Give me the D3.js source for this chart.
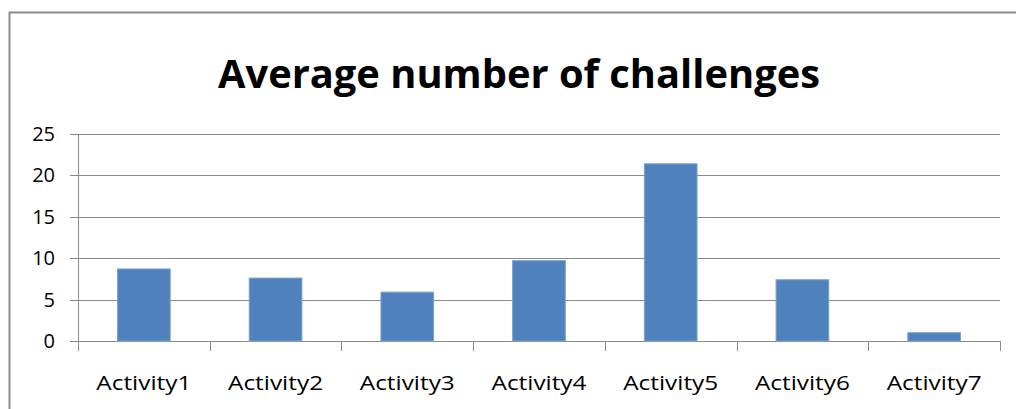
<!DOCTYPE html>
<html>
<head>
<meta charset="utf-8">
<script src="https://cdn.jsdelivr.net/npm/d3@7"></script>
<style>
  body { margin: 0; background: #fff; }
  svg { display: block; }
</style>
</head>
<body>
<script>
var activities = ['Activity1', 'Activity2', 'Activity3', 'Activity4', 'Activity5', 'Activity6', 'Activity7'];
var challenges = [8.7, 7.6, 5.9, 9.7, 21.4, 7.4, 1.0];
var yTicks = [0, 5, 10, 15, 20, 25];
var chartTitle = 'Average number of challenges';

var width = 1016,
    height = 409;

var svg = d3.select('body').append('svg')
  .attr('width', width)
  .attr('height', height);

// chart frame
svg.append('rect')
  .attr('x', 9.5).attr('y', 12.5)
  .attr('width', width + 10).attr('height', height + 10)
  .attr('fill', 'none')
  .attr('stroke', '#8c8c8c')
  .attr('stroke-width', 2);

svg.append('text')
  .attr('x', 519)
  .attr('y', 88)
  .attr('text-anchor', 'middle')
  .attr('font-family', 'Open Sans, Noto Sans, sans-serif')
  .attr('font-weight', 'bold')
  .attr('font-size', 40)
  .attr('textLength', 602)
  .attr('lengthAdjust', 'spacingAndGlyphs')
  .attr('fill', '#000')
  .text(chartTitle);

var plotLeft = 78, plotRight = 1000, plotTop = 134, plotBottom = 341;

var x = d3.scaleBand()
  .domain(activities)
  .range([plotLeft, plotRight])
  .paddingInner(0.6)
  .paddingOuter(0.3);

var y = d3.scaleLinear()
  .domain([0, 25])
  .range([plotBottom, plotTop]);

// grid
svg.append('g')
  .selectAll('line')
  .data(yTicks)
  .enter().append('line')
    .attr('x1', plotLeft - 8)
    .attr('x2', plotRight)
    .attr('y1', function(d) { return Math.round(y(d)) + 0.5; })
    .attr('y2', function(d) { return Math.round(y(d)) + 0.5; })
    .attr('stroke', '#8a8a8a')
    .attr('stroke-width', 1);

// y axis line
svg.append('line')
  .attr('x1', plotLeft + 0.5).attr('x2', plotLeft + 0.5)
  .attr('y1', plotTop).attr('y2', plotBottom + 10)
  .attr('stroke', '#8a8a8a');

// x ticks at category boundaries
var step = (plotRight - plotLeft) / activities.length;
svg.append('g')
  .selectAll('line')
  .data(d3.range(activities.length + 1))
  .enter().append('line')
    .attr('x1', function(i) { return Math.round(plotLeft + i * step) + 0.5; })
    .attr('x2', function(i) { return Math.round(plotLeft + i * step) + 0.5; })
    .attr('y1', plotBottom)
    .attr('y2', plotBottom + 10)
    .attr('stroke', '#8a8a8a');

// bars
svg.append('g')
  .selectAll('rect')
  .data(challenges)
  .enter().append('rect')
    .attr('x', function(d, i) { return x(activities[i]); })
    .attr('y', function(d) { return y(d); })
    .attr('width', x.bandwidth())
    .attr('height', function(d) { return y(0) - y(d); })
    .attr('fill', '#4f81bd')
    .attr('stroke', '#7ea1cf')
    .attr('stroke-width', 1);

// y labels
svg.append('g')
  .selectAll('text')
  .data(yTicks)
  .enter().append('text')
    .attr('x', 55)
    .attr('y', function(d) { return y(d); })
    .attr('dy', '0.35em')
    .attr('text-anchor', 'end')
    .attr('font-family', 'Open Sans, Noto Sans, sans-serif')
    .attr('font-size', 20)
    .attr('fill', '#000')
    .text(function(d) { return d; });

// x labels
svg.append('g')
  .selectAll('text')
  .data(activities)
  .enter().append('text')
    .attr('x', function(d) { return x(d) + x.bandwidth() / 2; })
    .attr('y', 390)
    .attr('text-anchor', 'middle')
    .attr('font-family', 'Open Sans, Noto Sans, sans-serif')
    .attr('font-size', 20)
    .attr('textLength', 95)
    .attr('lengthAdjust', 'spacingAndGlyphs')
    .attr('fill', '#000')
    .text(function(d) { return d; });
</script>
</body>
</html>
